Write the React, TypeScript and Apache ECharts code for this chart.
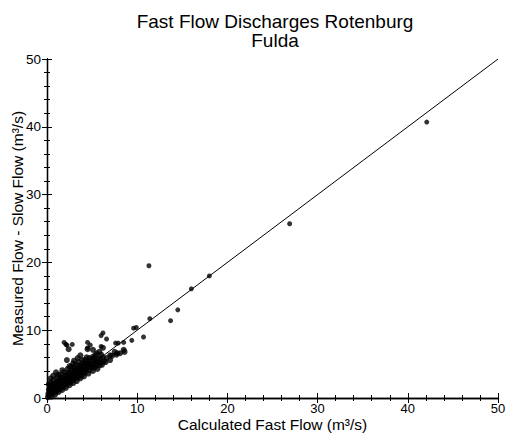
import React, { useEffect, useRef } from "react";
import * as echarts from "echarts";

const titleLines = ["Fast Flow Discharges Rotenburg", "Fulda"];
const xAxisName = "Calculated Fast Flow (m³/s)";
const yAxisName = "Measured Flow - Slow Flow (m³/s)";
const axisMin = 0;
const axisMax = 50;
const axisInterval = 10;

// Calculated fast flow vs measured minus slow flow (m³/s)
const clusterPoints: number[][] = [
  [0.1, 0.1], [0.2, 0.4], [0.3, 0.8], [0.2, 1.2], [0.3, 1.6], [0.2, 2.0], [0.4, 2.3],
  [0.5, 0.2], [0.6, 0.6], [0.5, 1.0], [0.7, 1.4], [0.6, 1.8], [0.8, 2.1], [0.7, 2.6],
  [0.9, 0.5], [1.0, 0.9], [0.9, 1.3], [1.1, 1.7], [1.0, 2.2], [1.2, 2.5], [1.1, 3.0],
  [1.3, 0.9], [1.4, 1.3], [1.3, 1.8], [1.5, 2.1], [1.4, 2.7], [1.6, 3.0], [1.5, 3.5],
  [1.7, 1.2], [1.8, 1.6], [1.7, 2.1], [1.9, 2.5], [1.8, 2.9], [2.0, 3.3], [1.9, 3.8],
  [2.1, 1.5], [2.2, 2.0], [2.1, 2.5], [2.3, 2.9], [2.2, 3.4], [2.4, 3.8], [2.3, 4.3],
  [2.5, 1.9], [2.6, 2.3], [2.5, 2.8], [2.7, 3.2], [2.6, 3.7], [2.8, 4.1], [2.7, 4.6],
  [2.9, 2.2], [3.0, 2.7], [3.1, 3.1], [2.9, 3.5], [3.1, 4.0], [3.0, 4.5], [3.2, 4.9],
  [3.3, 2.5], [3.4, 3.0], [3.3, 3.5], [3.5, 3.9], [3.4, 4.4], [3.6, 4.8], [3.5, 5.3],
  [3.7, 2.9], [3.8, 3.3], [3.7, 3.8], [3.9, 4.2], [3.8, 4.7], [4.0, 5.1], [3.9, 5.6],
  [4.1, 3.2], [4.2, 3.7], [4.3, 4.2], [4.1, 4.7], [4.4, 5.2], [4.2, 5.6], [4.4, 6.0],
  [4.6, 3.6], [4.7, 4.1], [4.8, 4.6], [4.6, 5.0], [4.9, 5.5], [4.7, 5.9],
  [5.1, 4.0], [5.3, 4.5], [5.2, 5.0], [5.4, 5.4], [5.2, 5.9], [5.6, 4.3], [5.8, 4.8],
  [5.7, 5.3], [5.9, 5.8], [6.1, 4.9], [6.3, 5.4], [6.2, 6.0], [6.5, 5.3], [6.6, 5.9],
  [6.0, 6.4], [7.0, 5.6], [7.2, 6.2], [7.5, 6.8], [7.0, 6.3], [7.8, 6.6], [8.1, 6.6],
  [8.5, 7.1], [8.6, 6.8], [7.7, 6.4],
  [0.4, 2.9], [0.7, 3.3], [1.0, 3.8], [1.25, 3.4], [1.7, 4.1], [2.5, 4.7], [3.0, 5.5],
  [2.2, 5.6], [2.9, 5.1], [3.4, 5.9], [3.7, 6.3], [5.1, 6.1], [5.5, 6.6], [5.4, 6.3],
  [5.8, 6.8], [5.1, 7.1], [6.2, 7.4], [2.4, 7.2], [4.5, 7.2],
  [0.15, 0.6], [0.35, 1.3], [0.45, 1.9], [0.65, 1.1], [0.85, 1.7], [1.05, 1.3],
  [1.25, 2.2], [1.45, 1.6], [1.65, 2.5], [1.85, 2.0], [2.05, 2.8], [2.25, 2.3],
  [2.45, 3.3], [2.65, 2.6], [2.85, 3.0], [3.05, 3.8], [3.25, 3.2], [3.45, 4.1],
  [3.65, 3.5], [3.85, 4.4], [4.05, 3.9], [4.25, 4.9], [4.45, 4.4], [4.65, 5.4],
  [4.85, 4.9], [5.05, 4.5], [5.25, 5.6], [5.45, 4.9], [5.65, 5.8], [6.0, 5.2],
];

const outlierPoints: number[][] = [
  [1.9, 8.2], [2.1, 7.9], [2.2, 7.8], [2.8, 7.9], [4.5, 8.2], [4.5, 7.4], [4.8, 7.8],
  [6.0, 7.6], [6.2, 9.6], [6.0, 9.2], [6.6, 8.7], [7.6, 8.1], [7.9, 8.1], [8.5, 8.2],
  [9.4, 8.5], [9.6, 10.3], [9.9, 10.4], [10.7, 9.0], [11.4, 11.7], [13.7, 11.4],
  [14.5, 13.0], [16.0, 16.1], [18.0, 18.0], [11.3, 19.5], [26.9, 25.7], [42.1, 40.7],
];

const oneToOneLine: number[][] = [
  [0, 0],
  [50, 50],
];

const FONT = "'Liberation Sans', Arial, Helvetica, sans-serif";

export default function App() {
  const ref = useRef<HTMLDivElement>(null);
  useEffect(() => {
    if (!ref.current) return;
    const chart = echarts.init(ref.current, undefined, { renderer: "svg" });
    const axisCommon = {
      type: "value" as const,
      min: axisMin,
      max: axisMax,
      interval: axisInterval,
      axisLine: { show: true, lineStyle: { color: "#000", width: 1.3 } },
      axisTick: { show: true, inside: true, length: 5, lineStyle: { color: "#000", width: 1 } },
      minorTick: { show: true, splitNumber: 5, length: 3, lineStyle: { color: "#000", width: 1 } },
      splitLine: { show: false },
    };
    const titleStyle = { fontFamily: FONT, fontSize: 19, fontWeight: "normal" as const, color: "#000" };
    chart.setOption({
      animation: false,
      backgroundColor: "#fff",
      title: [
        { text: titleLines[0], left: 275, textAlign: "center", top: 12, padding: 0, textStyle: titleStyle },
        { text: titleLines[1], left: 275, textAlign: "center", top: 31, padding: 0, textStyle: titleStyle },
      ],
      grid: { left: 47, right: 8, top: 59, bottom: 37, containLabel: false, outerBoundsMode: "none" },
      xAxis: [
        {
          ...axisCommon,
          position: "bottom",
          name: xAxisName,
          nameLocation: "middle",
          nameGap: 18,
          nameMoveOverlap: false,
          nameTextStyle: { fontFamily: FONT, fontSize: 15.5, color: "#000", lineHeight: 16 },
          axisLabel: { fontFamily: FONT, fontSize: 13, color: "#000", margin: 3, lineHeight: 14 },
        },
        {
          ...axisCommon,
          position: "top",
          axisLabel: { show: false },
        },
      ],
      yAxis: [
        {
          ...axisCommon,
          position: "left",
          name: yAxisName,
          nameLocation: "middle",
          nameGap: 22,
          nameMoveOverlap: false,
          nameTextStyle: { fontFamily: FONT, fontSize: 15.5, color: "#000" },
          axisLabel: { fontFamily: FONT, fontSize: 13.5, color: "#000", margin: 6 },
        },
        {
          ...axisCommon,
          position: "right",
          axisLabel: { show: false },
        },
      ],
      series: [
        {
          type: "line",
          data: oneToOneLine,
          symbol: "none",
          lineStyle: { color: "#000", width: 1 },
          silent: true,
        },
        {
          type: "scatter",
          data: clusterPoints,
          symbol: "circle",
          symbolSize: 6,
          itemStyle: { color: "#000" },
        },
        {
          type: "scatter",
          data: outlierPoints,
          symbol: "circle",
          symbolSize: 5,
          itemStyle: { color: "#000" },
        },
      ],
    });
    return () => chart.dispose();
  }, []);
  return (
    <div
      ref={ref}
      style={{ position: "absolute", left: 0, top: 0, width: 506, height: 435 }}
    />
  );
}
